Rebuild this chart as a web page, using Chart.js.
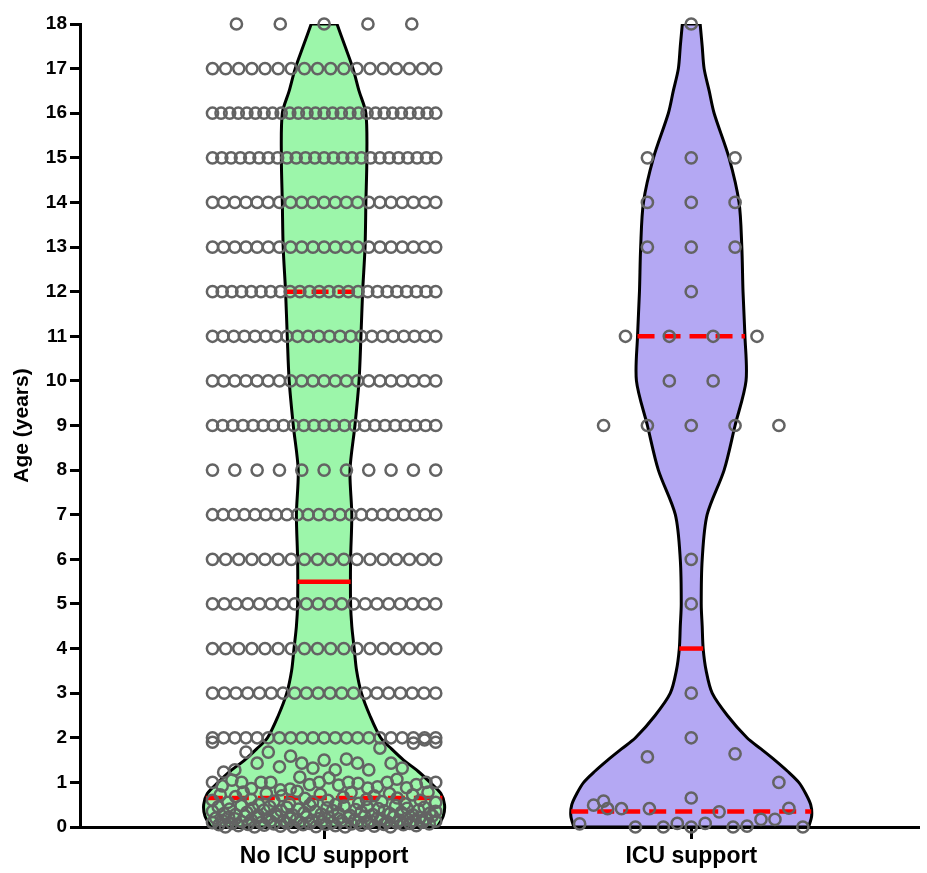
<!DOCTYPE html>
<html>
<head>
<meta charset="utf-8">
<script src="https://cdn.jsdelivr.net/npm/chart.js@4.4.1/dist/chart.umd.min.js"></script>
<style>
html,body{margin:0;padding:0;background:#ffffff;}
canvas{display:block;}
</style>
</head>
<body>
<canvas id="c" width="927" height="873"></canvas>
<script>
// ---------- DATA ----------
const groupLabels = ['No ICU support', 'ICU support'];
const ageTicks = [0,1,2,3,4,5,6,7,8,9,10,11,12,13,14,15,16,17,18];

// No ICU support: whole-year ages and how many children at each
const noIcuRowAges   = [2, 3, 4, 5, 6, 7, 8, 9, 10, 11, 12, 13, 14, 15, 16, 17, 18];
const noIcuRowCounts = [21, 20, 18, 20, 18, 22, 11, 23, 21, 22, 24, 21, 21, 25, 27, 18, 5];
// No ICU support: ages under 2 years, in bands (left-to-right reading order)
const noIcuAges1to2 = [1.9, 1.23, 1.28, 1.68, 1.43, 1.68, 1.35, 1.59, 1.43, 1.32, 1.5, 1.28, 1.52, 1.43, 1.28, 1.77, 1.43, 1.32, 1.88, 1.95, 1.9];
const noIcuAges08to12 = [1.0, 0.92, 1.05, 1.0, 0.86, 1.0, 1.0, 0.83, 0.85, 1.12, 0.95, 1.0, 1.1, 0.94, 1.0, 0.98, 0.87, 0.9, 1.0, 1.07, 0.88, 0.95, 1.0, 1.0];
const noIcuAges05to08 = [0.6, 0.72, 0.55, 0.68, 0.78, 0.62, 0.5, 0.75, 0.58, 0.7, 0.52, 0.8, 0.64, 0.56, 0.73, 0.6, 0.5, 0.67, 0.77, 0.53, 0.62, 0.7, 0.57, 0.75, 0.65, 0.52, 0.72, 0.6, 0.78, 0.55];
const noIcuAges025to05 = [0.35, 0.45, 0.3, 0.4, 0.28, 0.48, 0.33, 0.42, 0.26, 0.38, 0.46, 0.3, 0.36, 0.44, 0.27, 0.4, 0.32, 0.49, 0.35, 0.29, 0.43, 0.37, 0.31, 0.47, 0.26, 0.39, 0.34, 0.45, 0.28, 0.41, 0.36, 0.3, 0.48, 0.33, 0.42, 0.27, 0.38, 0.44, 0.31, 0.35];
const noIcuAges0to025 = [0.1, 0.2, 0.05, 0.15, 0.0, 0.22, 0.08, 0.18, 0.03, 0.12, 0.25, 0.06, 0.16, 0.0, 0.21, 0.1, 0.04, 0.19, 0.13, 0.07, 0.24, 0.02, 0.14, 0.09, 0.2, 0.0, 0.17, 0.11, 0.05, 0.23, 0.08, 0.15, 0.01, 0.19, 0.12, 0.06, 0.22, 0.1, 0.03, 0.18, 0.14, 0.0, 0.21, 0.07, 0.16, 0.11, 0.04, 0.24, 0.09, 0.13, 0.02, 0.2, 0.17, 0.06, 0.12, 0.0, 0.23, 0.1, 0.15, 0.05, 0.19, 0.08, 0.14, 0.03, 0.21, 0.11, 0.18, 0.07, 0.25, 0.13];

// ICU support
const icuRowAges   = [2, 3, 5, 6, 9, 10, 11, 12, 13, 14, 15, 18];
const icuRowCounts = [1, 1, 1, 1, 5, 2, 4, 1, 3, 3, 3, 1];
const icuAgesUnderHalf = [0.07, 0.49, 0.41, 0.41, 0.0, 0.41, 0.0, 0.08, 0.0, 0.08, 0.34, 0.0, 0.02, 0.17, 0.17, 0.42, 0.0];
const icuAgesOther = [0.58, 1.57, 0.65, 1.64, 1.0];

// Quartiles [Q1, median, Q3]
const noIcuQuartiles = [0.65, 5.5, 12];
const icuQuartiles   = [0.35, 4, 11];

// Violin outline: relative density (1 = widest) at these ages
const densityAges  = [0, 0.25, 0.5, 0.75, 1, 1.25, 1.5, 1.75, 2, 2.5, 3, 3.5, 4, 4.5, 5, 6, 7, 8, 9, 10, 11, 12, 13, 14, 15, 16, 16.5, 17, 17.5, 18];
const noIcuDensity = [0.94, 0.99, 1.0, 0.97, 0.88, 0.78, 0.66, 0.56, 0.47, 0.38, 0.31, 0.27, 0.25, 0.23, 0.22, 0.22, 0.23, 0.215, 0.256, 0.29, 0.306, 0.32, 0.34, 0.347, 0.355, 0.347, 0.29, 0.24, 0.174, 0.107];
const icuDensity   = [0.975, 1.0, 0.992, 0.95, 0.893, 0.8, 0.694, 0.579, 0.463, 0.3, 0.174, 0.124, 0.099, 0.091, 0.083, 0.091, 0.132, 0.273, 0.364, 0.455, 0.446, 0.43, 0.42, 0.397, 0.314, 0.19, 0.149, 0.107, 0.091, 0.074];

// ---------- LAYOUT / STYLE ----------
const X_MIN = 0.3351, X_MAX = 2.6201;
const VIOLIN_HALF = 0.328;   // widest half-width in x units
const ROW_HALF = 0.304;      // half-width available for a row of dots
const STEP_MAX = 0.1194;     // widest dot spacing
const FONT = "'Liberation Sans', Arial, Helvetica, sans-serif";
const GREEN = '#9cf6aa';
const PURPLE = '#b4a8f3';
const RED = '#ff0000';

function spread(center, ages) {
  const n = ages.length;
  const step = n > 1 ? Math.min(STEP_MAX, 2 * ROW_HALF / (n - 1)) : 0;
  return ages.map((a, i) => ({ x: center + (i - (n - 1) / 2) * step, y: a }));
}
function rowPoints(center, rowAges, rowCounts) {
  let out = [];
  rowAges.forEach((a, i) => { out = out.concat(spread(center, new Array(rowCounts[i]).fill(a))); });
  return out;
}
function widthAt(dens, age) {
  for (let i = 0; i < densityAges.length - 1; i++) {
    const a0 = densityAges[i], a1 = densityAges[i + 1];
    if (age >= a0 && age <= a1) {
      const t = (age - a0) / (a1 - a0);
      return (dens[i] + t * (dens[i + 1] - dens[i])) * VIOLIN_HALF;
    }
  }
  return dens[dens.length - 1] * VIOLIN_HALF;
}
function violinPath(center, dens) {
  const L = densityAges.map((a, i) => ({ x: center - dens[i] * VIOLIN_HALF, y: a }));
  const R = densityAges.map((a, i) => ({ x: center + dens[i] * VIOLIN_HALF, y: a })).reverse();
  return [L[0]].concat(L, [L[L.length - 1], R[0]], R, [R[R.length - 1], L[0]]);
}
function quartileLines(center, dens, q) {
  return q.map((age, i) => {
    const w = widthAt(dens, age);
    return {
      type: 'line',
      data: [{ x: center - w, y: age }, { x: center + w, y: age }],
      borderColor: RED,
      borderWidth: 4.5,
      borderDash: i === 1 ? [] : [17, 9],
      borderCapStyle: 'butt',
      pointRadius: 0,
      fill: false,
      tension: 0,
      order: 1
    };
  });
}

const noIcuPoints = rowPoints(1, noIcuRowAges, noIcuRowCounts)
  .concat(spread(1, noIcuAges1to2), spread(1, noIcuAges08to12), spread(1, noIcuAges05to08),
          spread(1, noIcuAges025to05), spread(1, noIcuAges0to025));
const icuPoints = rowPoints(2, icuRowAges, icuRowCounts)
  .concat(spread(2, icuAgesUnderHalf), spread(2, icuAgesOther));

const violinDs = (center, dens, color) => ({
  type: 'line',
  data: violinPath(center, dens),
  borderColor: '#000000',
  borderWidth: 3,
  backgroundColor: color,
  fill: 'shape',
  tension: 0.3,
  pointRadius: 0,
  order: 3
});
const pointDs = (pts) => ({
  type: 'scatter',
  data: pts,
  pointRadius: 5.6,
  pointBorderWidth: 2.5,
  pointBorderColor: '#636363',
  pointBackgroundColor: 'rgba(0,0,0,0)',
  showLine: false,
  clip: false,
  order: 0
});

new Chart(document.getElementById('c'), {
  type: 'scatter',
  data: {
    datasets: [
      violinDs(1, noIcuDensity, GREEN),
      violinDs(2, icuDensity, PURPLE),
      ...quartileLines(1, noIcuDensity, noIcuQuartiles),
      ...quartileLines(2, icuDensity, icuQuartiles),
      pointDs(noIcuPoints),
      pointDs(icuPoints)
    ]
  },
  options: {
    responsive: false,
    animation: false,
    events: [],
    layout: { padding: { top: 24, right: 5, left: 0, bottom: 0 } },
    plugins: { legend: { display: false }, tooltip: { enabled: false } },
    scales: {
      x: {
        type: 'linear',
        min: X_MIN, max: X_MAX,
        afterBuildTicks: s => { s.ticks = [{ value: 1 }, { value: 2 }]; },
        afterFit: s => { s.height = 46; },
        ticks: {
          callback: v => groupLabels[Math.round(v) - 1],
          font: { family: FONT, size: 23, weight: 'bold' },
          color: '#000000',
          padding: 4,
          maxRotation: 0,
          autoSkip: false
        },
        grid: { drawOnChartArea: false, drawTicks: true, tickLength: 12, tickWidth: 3, tickColor: '#000000', lineWidth: 3 },
        border: { display: true, width: 3, color: '#000000' }
      },
      y: {
        type: 'linear',
        min: 0, max: 18,
        afterBuildTicks: s => { s.ticks = ageTicks.map(v => ({ value: v })); },
        afterFit: s => { s.width = 80; },
        ticks: {
          font: { family: FONT, size: 19, weight: 'bold' },
          color: '#000000',
          padding: 3,
          autoSkip: false
        },
        grid: { drawOnChartArea: false, drawTicks: true, tickLength: 10, tickWidth: 3, tickColor: '#000000', lineWidth: 3 },
        border: { display: true, width: 3, color: '#000000' },
        title: {
          display: true,
          text: 'Age (years)',
          font: { family: FONT, size: 21, weight: 'bold' },
          color: '#000000',
          padding: { top: 10, bottom: 0 }
        }
      }
    }
  }
});
</script>
</body>
</html>
